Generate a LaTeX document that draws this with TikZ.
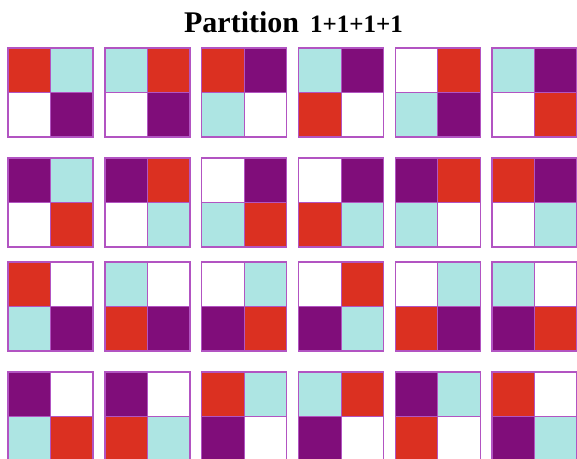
\documentclass[tikz,border=0pt]{standalone}
\usepackage{fontspec}
\setmainfont{Liberation Serif}

\begin{document}
\begin{tikzpicture}[x=1pt,y=-1pt]

   %my colors
\definecolor{R}{rgb}{0.86, 0.19, 0.13}
\definecolor{C}{rgb}{0.68, 0.90, 0.89}
\definecolor{P}{rgb}{0.50, 0.05, 0.48}
\definecolor{W}{rgb}{1, 1, 1}
\definecolor{frame}{rgb}{0.70, 0.33, 0.76}

    \clip (0,0) rectangle (577,458);

    % Tile size and column pitch
    \def\w{85} % width of a tile
    \def\h{89} % height of a tile
    \def\dx{96.8} % distance between columns

    % One tile: x, y, then the colours top left, top right, bottom left, bottom right
    \def\tile#1#2#3#4#5#6{%
      \fill[#3] (#1,#2) rectangle ++(\w/2,\h/2);
      \fill[#4] (#1+\w/2,#2) rectangle ++(\w/2,\h/2);
      \fill[#5] (#1,#2+\h/2) rectangle ++(\w/2,\h/2);
      \fill[#6] (#1+\w/2,#2+\h/2) rectangle ++(\w/2,\h/2);
      \draw[frame, line width=0.8] (#1+\w/2,#2) -- ++(0,\h) (#1,#2+\h/2) -- ++(\w,0);
      \draw[frame, line width=1.4] (#1,#2) rectangle ++(\w,\h);
    }

    % Title
    \node[anchor=base, font=\bfseries, inner sep=0] (title) at (293.5,32)
      {{\fontsize{30}{32}\selectfont Partition}\hspace{11pt}{\fontsize{25}{27}\selectfont 1+1+1+1}};

    % Row 1
    \foreach \a/\b/\c/\d [count=\i from 0] in {R/C/W/P, C/R/W/P, R/P/C/W, C/P/R/W, W/R/C/P, C/P/W/R}
      {\tile{8+\i*\dx}{48}{\a}{\b}{\c}{\d}}
    % Row 2
    \foreach \a/\b/\c/\d [count=\i from 0] in {P/C/W/R, P/R/W/C, W/P/C/R, W/P/R/C, P/R/C/W, R/P/W/C}
      {\tile{8+\i*\dx}{158}{\a}{\b}{\c}{\d}}
    % Row 3
    \foreach \a/\b/\c/\d [count=\i from 0] in {R/W/C/P, C/W/R/P, W/C/P/R, W/R/P/C, W/C/R/P, C/W/P/R}
      {\tile{8+\i*\dx}{262}{\a}{\b}{\c}{\d}}
    % Row 4
    \foreach \a/\b/\c/\d [count=\i from 0] in {P/W/C/R, P/W/R/C, R/C/P/W, C/R/P/W, P/C/R/W, R/W/P/C}
      {\tile{8+\i*\dx}{372}{\a}{\b}{\c}{\d}}

\end{tikzpicture}
\end{document}
